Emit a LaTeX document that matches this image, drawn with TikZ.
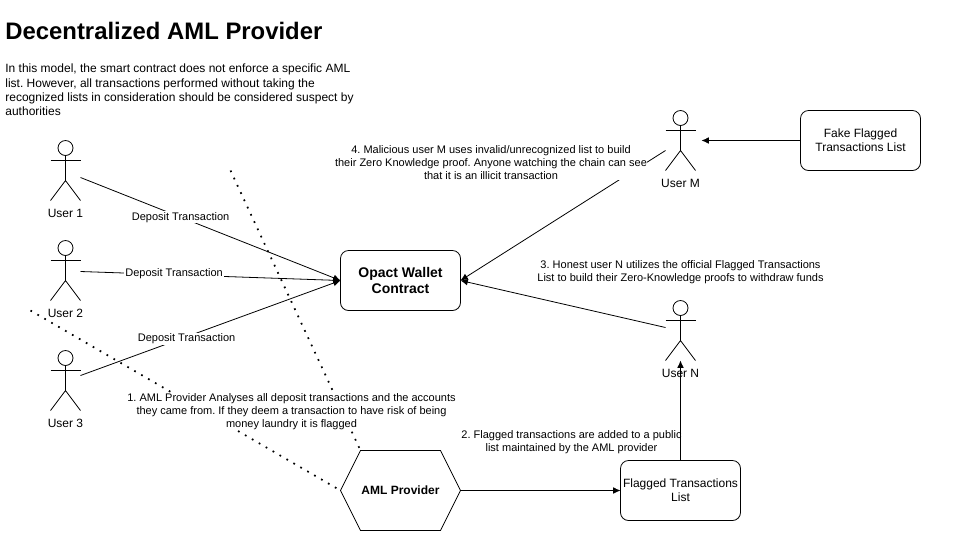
\documentclass[tikz,border=0pt]{standalone}
\usepackage{fontspec}
\setmainfont{Liberation Sans}
\usetikzlibrary{shapes.symbols,arrows.meta}
\frenchspacing
\tikzset{
    actorbox/.style={minimum width=22.5pt,minimum height=45pt,inner sep=0pt,outer sep=0pt},
    listbox/.style={draw,rounded corners=6pt,minimum width=90pt,minimum height=45pt,inner sep=0pt,outer sep=0pt,align=center,font=\fontsize{9}{10.8}\selectfont},
    edgelabel/.style={fill=white,inner sep=.8pt,font=\fontsize{8.25}{9.9}\selectfont},
    notetext/.style={fill=white,inner sep=0pt,align=center,font=\fontsize{8.25}{9.9}\selectfont},
    arrowline/.style={-{Latex[length=5.5pt,width=5pt]}},
    dotline/.style={line width=1.3pt,dash pattern=on 1.3pt off 4.7pt},
}
\begin{document}
\begin{tikzpicture}[x=.75pt,y=-.75pt,line width=.6pt]
    \useasboundingbox (-.5,-.5) rectangle (960.5,550.5);
    \node[anchor=west,inner sep=0pt,font=\fontsize{17.9}{21.6}\bfseries\selectfont] (title) at (4.5,30) {Decentralized AML Provider};
    \node[anchor=north west,inner sep=0pt,align=left,font=\fontsize{9}{10.8}\selectfont] (intro) at (4.5,63)
        {In this model, the smart contract does not enforce a specific AML\\list. However, all transactions performed without taking the\\recognized lists in consideration should be considered suspect by\\authorities};
    \foreach \name/\txt/\x/\y in {user1/User 1/65/170,user2/User 2/65/270,user3/User 3/65/380,userM/User M/680/140,userN/User N/680/330}{
        \node[actorbox] (\name) at (\x,\y) {};
        \node[inner sep=0pt,font=\fontsize{9}{10.8}\selectfont] (\name-label) at (\x,\y+43) {\txt};
        \draw (\x,\y-22.5) circle[radius=7.5];
        \draw (\x-15,\y-10) -- (\x+15,\y-10);
        \draw (\x,\y-15) -- (\x,\y+10);
        \draw (\x-15,\y+30) -- (\x,\y+10) -- (\x+15,\y+30);
    }
    \node[listbox,font=\fontsize{10.5}{12.6}\bfseries\selectfont] (wallet) at (400,280) {Opact Wallet\\Contract};
    \node[listbox] (fakelist) at (860,140) {Fake Flagged\\Transactions List};
    \node[listbox] (flagged) at (680,490) {Flagged Transactions\\List};
    \node[draw,shape=signal,signal to=west and east,signal pointer angle=126.87,minimum width=120*.75pt,minimum height=80*.75pt,inner sep=0pt,outer sep=0pt,font=\fontsize{9}{10.8}\bfseries\selectfont] (aml) at (400,490) {AML Provider};
    % dotted lines behind the first note
    \coordinate (dotA) at (230,170);
    \coordinate (dotB) at (30,310);
    \coordinate (amltop) at (360,450);
    \draw[dotline] (dotA) -- (amltop);
    \draw[dotline] (dotB) -- (aml.west);
    \node[notetext] (note1) at (291,411) {1. AML Provider Analyses all deposit transactions and the accounts\\they came from. If they deem a transaction to have risk of being\\money laundry it is flagged};
    \draw[arrowline] ([yshift=-5.25pt]user1.east) -- (wallet.west) node[edgelabel,pos=.385] {Deposit Transaction};
    \draw[arrowline] ([yshift=-.75pt]user2.east) -- (wallet.west) node[edgelabel,pos=.36,yshift=.5pt] {Deposit Transaction};
    \draw[arrowline] ([yshift=3.75pt]user3.east) -- (wallet.west) node[edgelabel,pos=.408,yshift=-1.5pt] {Deposit Transaction};
    \draw[arrowline] ([yshift=-7.5pt]userM.west) -- (wallet.east);
    \draw[arrowline] ([yshift=2.25pt]userN.west) -- (wallet.east);
    \draw[arrowline] (fakelist.west) -- ([xshift=4.5pt]userM.east);
    \draw[arrowline] (aml.east) -- (flagged.west);
    \node[notetext] (note4) at (490.5,162) {4. Malicious user M uses invalid/unrecognized list to build\\their Zero Knowledge proof. Anyone watching the chain can see\\that it is an illicit transaction};
    \node[notetext] (note3) at (680,272) {3. Honest user N utilizes the official Flagged Transactions\\List to build their Zero-Knowledge proofs to withdraw funds};
    \node[notetext] (note2) at (571,442) {2. Flagged transactions are added to a public\\list maintained by the AML provider};
    \draw[arrowline] (flagged.north) -- (userN.south);
\end{tikzpicture}
\end{document}
